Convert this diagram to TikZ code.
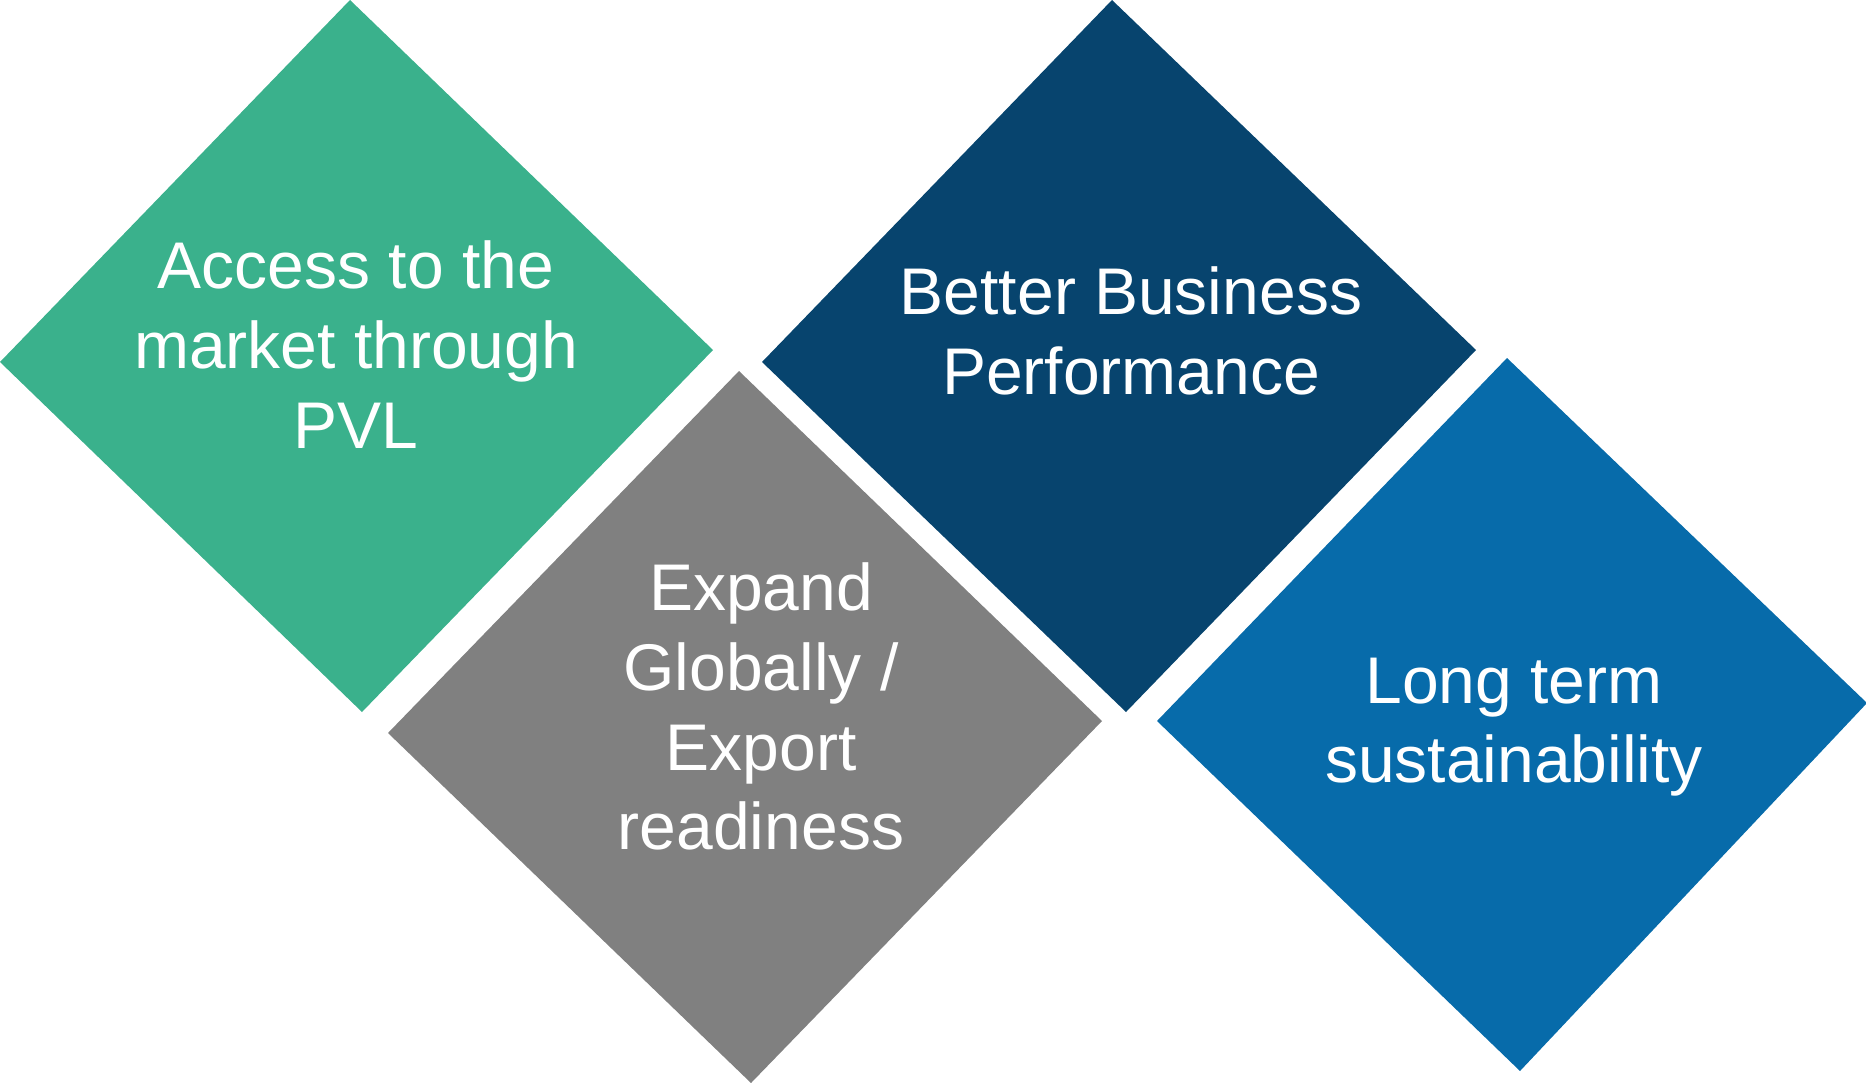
\documentclass[tikz,border=0pt]{standalone}
\usepackage{fontspec}
\setmainfont{Liberation Sans}
\definecolor{cgreen}{HTML}{3AB18C}
\definecolor{cnavy}{HTML}{07446E}
\definecolor{cgray}{HTML}{808080}
\definecolor{cblue}{HTML}{076BAA}
\tikzset{
  lbl/.style={text=white, font=\fontsize{66}{80}\selectfont, anchor=base, inner sep=0pt},
}
\begin{document}
\begin{tikzpicture}[x=1pt,y=-1pt]
\useasboundingbox (0,0) rectangle (1866,1082);
% green diamond
\coordinate (gT) at (350,0);
\coordinate (gR) at (713,350);
\coordinate (gB) at (362,712);
\coordinate (gL) at (0,362);
\fill[cgreen] (gT) -- (gR) -- (gB) -- (gL) -- cycle;
% navy diamond
\coordinate (nT) at (1112,0);
\coordinate (nR) at (1476,350);
\coordinate (nB) at (1126,712);
\coordinate (nL) at (762,362);
\fill[cnavy] (nT) -- (nR) -- (nB) -- (nL) -- cycle;
% gray diamond
\coordinate (yT) at (739,371);
\coordinate (yR) at (1102,721);
\coordinate (yB) at (751,1083);
\coordinate (yL) at (388,733);
\fill[cgray] (yT) -- (yR) -- (yB) -- (yL) -- cycle;
% blue diamond
\coordinate (bT) at (1507,358);
\coordinate (bR) at (1867,703);
\coordinate (bB) at (1520,1071);
\coordinate (bL) at (1157,721);
\fill[cblue] (bT) -- (bR) -- (bB) -- (bL) -- cycle;
% texts
\node[lbl] (g1) at (356,288) {Access to the};
\node[lbl] (g2) at (356,368) {market through};
\node[lbl] (g3) at (356,448) {PVL};
\node[lbl] (n1) at (1131,314) {Better Business};
\node[lbl] (n2) at (1131,394) {Performance};
\node[lbl] (y1) at (761,610) {Expand};
\node[lbl] (y2) at (761,690) {Globally /};
\node[lbl] (y3) at (761,770) {Export};
\node[lbl] (y4) at (761,849) {readiness};
\node[lbl] (b1) at (1514,703) {Long term};
\node[lbl] (b2) at (1514,782) {sustainability};
\end{tikzpicture}
\end{document}
